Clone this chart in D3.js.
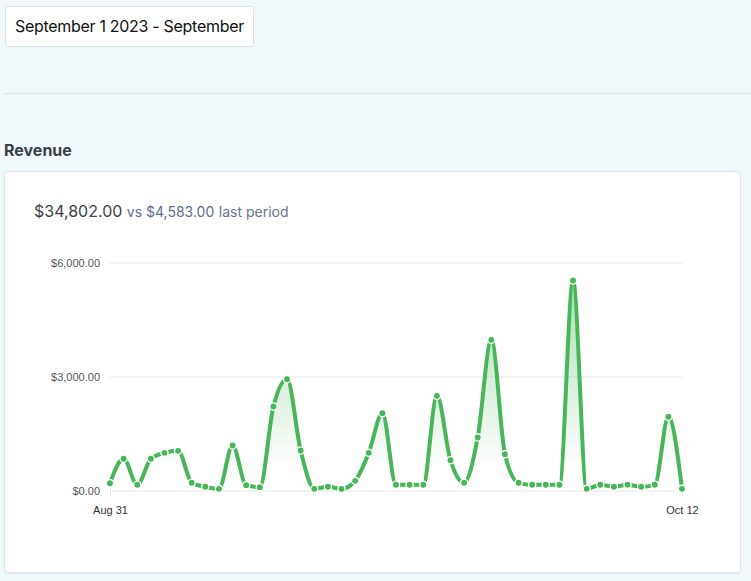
<!DOCTYPE html>
<html>
<head>
<meta charset="utf-8">
<script src="https://cdn.jsdelivr.net/npm/d3@7/dist/d3.min.js"></script>
<style>
  html, body { margin:0; padding:0; width:751px; height:581px; overflow:hidden; background:#f1f8fb; font-family: Inter, "Noto Sans", sans-serif; }
  .datebox { position:absolute; left:5px; top:6px; width:247px; height:39px; background:#fff; border:1px solid #d9e1e7; border-radius:3px; overflow:hidden; white-space:nowrap; }
  .datebox span { position:absolute; left:9px; top:9px; font-size:16px; letter-spacing:-0.3px; color:#111; line-height:20px; }
  .divider { position:absolute; left:4px; top:93px; width:747px; height:1px; background:#dde6ea; }
  .title { position:absolute; left:4px; top:140px; font-size:16px; font-weight:700; color:#3b4149; line-height:20px; }
  .card { position:absolute; left:4px; top:171px; width:735px; height:400px; background:#fff; border:1px solid #dfe4e9; border-radius:4px; box-shadow:0 1px 2px rgba(0,0,0,0.06); }
  .summary { position:absolute; left:34px; top:201px; white-space:nowrap; line-height:20px; }
  .summary .big { font-size:16px; color:#3a3f47; }
  .summary .vs { font-size:14px; color:#5b6e8c; }
  .summary .lp { font-size:14px; color:#66758c; }
  svg { position:absolute; left:0; top:0; }
</style>
</head>
<body>
<div class="datebox"><span>September 1 2023 - September</span></div>
<div class="divider"></div>
<div class="title">Revenue</div>
<div class="card"></div>
<div class="summary"><span class="big">$34,802.00</span> <span class="vs">vs $4,583.00</span> <span class="lp">last period</span></div>
<svg id="chart" width="751" height="581"></svg>
<script>
// ---- data ----
const startDate = new Date(2023, 7, 31);
const endDate = new Date(2023, 9, 12);
const revenue = [192, 834, 150, 834, 991, 1044, 202, 97, 44, 1184, 140, 88, 2210, 2930, 1053,
                 44, 97, 44, 254, 991, 2035, 150, 150, 150, 2491, 798, 202, 1395, 3965, 956, 202,
                 150, 150, 150, 5526, 44, 150, 97, 150, 97, 150, 1939, 44];
const yTickValues = [0, 3000, 6000];
const xTickLabels = ["Aug 31", "Oct 12"];

const dates = d3.timeDay.range(startDate, d3.timeDay.offset(endDate, 1));
const data = dates.map((d, i) => ({ date: d, value: revenue[i] }));

const svg = d3.select("#chart");
const plotLeft = 110, plotRight = 682, plotTop = 262.5, plotBottom = 490.5;

const x = d3.scaleTime().domain([startDate, endDate]).range([plotLeft, plotRight]);
const y = d3.scaleLinear().domain([0, 6000]).range([plotBottom, plotTop]);

const green = "#47b658";

// gradient
const defs = svg.append("defs");
const grad = defs.append("linearGradient").attr("id", "fillGrad")
  .attr("gradientUnits", "userSpaceOnUse")
  .attr("x1", 0).attr("x2", 0).attr("y1", plotTop).attr("y2", plotBottom - 20);
grad.append("stop").attr("offset", "0%").attr("stop-color", green).attr("stop-opacity", 0.5);
grad.append("stop").attr("offset", "100%").attr("stop-color", green).attr("stop-opacity", 0);

// gridlines + y labels
const yAxis = svg.append("g").attr("transform", `translate(${plotLeft},0)`)
  .call(d3.axisLeft(y).tickValues(yTickValues).tickSize(-(plotRight - plotLeft)).tickPadding(10)
    .tickFormat(d => "$" + d3.format(",.2f")(d)));
yAxis.select(".domain").remove();
yAxis.selectAll(".tick line").attr("stroke", "#e6e6e6");
yAxis.selectAll(".tick text").attr("fill", "#555").style("font-family", "'Liberation Sans', Arial, sans-serif").style("font-size", "11px");

// x axis
const xAxis = svg.append("g").attr("transform", `translate(0,${plotBottom})`)
  .call(d3.axisBottom(x).tickValues([startDate, endDate]).tickSize(6).tickPadding(10)
    .tickFormat((d, i) => xTickLabels[i]));
xAxis.select(".domain").remove();
xAxis.selectAll(".tick line").attr("stroke", "#dedede");
xAxis.selectAll(".tick text").attr("fill", "#333").style("font-family", "'Liberation Sans', Arial, sans-serif").style("font-size", "11px");

// area
const curve = d3.curveMonotoneX;
svg.append("path").datum(data)
  .attr("d", d3.area().x(d => x(d.date)).y0(y(0)).y1(d => y(d.value)).curve(curve))
  .attr("fill", "url(#fillGrad)");

// line
svg.append("path").datum(data)
  .attr("d", d3.line().x(d => x(d.date)).y(d => y(d.value)).curve(curve))
  .attr("fill", "none").attr("stroke", green).attr("stroke-width", 4)
  .attr("stroke-linejoin", "round");

// points
svg.append("g").selectAll("circle").data(data).join("circle")
  .attr("cx", d => x(d.date)).attr("cy", d => y(d.value))
  .attr("r", 3.6).attr("fill", green).attr("stroke", "#fff").attr("stroke-width", 1.3);
</script>
</body>
</html>
